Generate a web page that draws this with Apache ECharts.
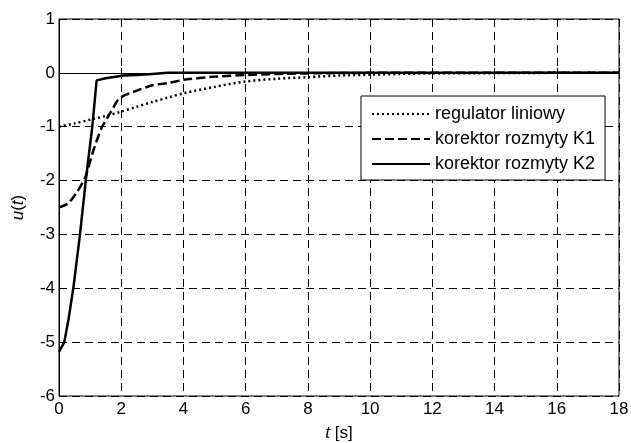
<!DOCTYPE html>
<html>
<head>
<meta charset="utf-8">
<script src="https://cdn.jsdelivr.net/npm/echarts@6/dist/echarts.min.js"></script>
<style>
  html, body { margin: 0; padding: 0; background: #fff; }
  #chart { width: 631px; height: 443px; }
</style>
</head>
<body>
<div id="chart"></div>
<script>
// regulator liniowy (dotted)
var tLin = [0, 0.5, 1, 1.5, 2, 2.5, 3, 3.5, 4, 5, 6, 7, 8, 9, 10, 11, 12, 14, 16, 18];
var uLin = [-1.0, -0.94, -0.87, -0.8, -0.72, -0.63, -0.54, -0.46, -0.38, -0.26, -0.16, -0.11, -0.08, -0.05, -0.035, -0.02, -0.01, -0.005, 0, 0];
// korektor rozmyty K1 (dashed)
var tK1 = [0, 0.3, 0.57, 0.84, 1.1, 1.37, 1.64, 1.9, 2.1, 2.5, 3, 3.5, 4, 5, 6, 7, 8, 10, 18];
var uK1 = [-2.5, -2.42, -2.22, -1.95, -1.45, -1.02, -0.75, -0.5, -0.42, -0.33, -0.23, -0.19, -0.13, -0.07, -0.04, -0.02, -0.01, 0, 0];
// korektor rozmyty K2 (solid)
var tK2 = [0, 0.05, 0.17, 0.3, 0.46, 0.675, 0.86, 1.07, 1.21, 1.5, 2.07, 2.5, 3, 3.5, 18];
var uK2 = [-5.18, -5.15, -5.0, -4.6, -4.0, -3.0, -2.0, -1.0, -0.14, -0.1, -0.05, -0.04, -0.02, 0, 0];

var seriesNames = ['regulator liniowy', 'korektor rozmyty K1', 'korektor rozmyty K2'];

function pairs(t, u) {
    return t.map(function (v, i) { return [v, u[i]]; });
}

var font = 'Liberation Sans, Arial, sans-serif';
var gridLine = { show: true, lineStyle: { color: '#000', width: 1, type: [8, 5] } };
var richItalic = { i: { fontFamily: font, fontSize: 17, fontStyle: 'italic', color: '#000' } };

var myChart = echarts.init(document.getElementById('chart'));

var option = {
    animation: false,
    backgroundColor: '#fff',
    grid: {
        left: 59, right: 12, top: 19, bottom: 47,
        outerBoundsMode: 'none',
        show: true, borderColor: '#000', borderWidth: 1
    },
    legend: {
        data: seriesNames,
        orient: 'vertical',
        left: 361,
        top: 96,
        padding: [8, 10, 6, 10],
        itemWidth: 58,
        itemHeight: 14,
        itemGap: 5,
        itemStyle: { opacity: 0 },
        backgroundColor: '#fff',
        borderColor: '#000',
        borderWidth: 1,
        textStyle: { fontFamily: font, fontSize: 18, color: '#000', lineHeight: 20 }
    },
    xAxis: {
        type: 'value',
        min: 0, max: 18, interval: 2,
        name: '{i|t} [s]',
        nameLocation: 'middle',
        nameGap: 29,
        nameTextStyle: { fontFamily: font, fontSize: 17, color: '#000', rich: richItalic },
        axisLine: { show: true, lineStyle: { color: '#000', width: 1 } },
        axisTick: { show: true, inside: true, length: 5, lineStyle: { color: '#000' } },
        axisLabel: { fontFamily: font, fontSize: 17, color: '#000', margin: 5 },
        splitLine: gridLine
    },
    yAxis: {
        type: 'value',
        min: -6, max: 1, interval: 1,
        name: '{i|u}({i|t})',
        nameLocation: 'middle',
        nameGap: 32,
        nameTextStyle: { fontFamily: font, fontSize: 17, color: '#000', rich: richItalic },
        axisLine: { show: true, lineStyle: { color: '#000', width: 1 } },
        axisTick: { show: true, inside: true, length: 5, lineStyle: { color: '#000' } },
        axisLabel: { fontFamily: font, fontSize: 17, color: '#000', margin: 4 },
        splitLine: gridLine
    },
    series: [
        {
            name: seriesNames[0], type: 'line', symbol: 'none', smooth: 0.3,
            data: pairs(tLin, uLin),
            lineStyle: { color: '#000', width: 2.5, type: [2, 3] },
            itemStyle: { color: '#000' }
        },
        {
            name: seriesNames[1], type: 'line', symbol: 'none', smooth: 0.2,
            data: pairs(tK1, uK1),
            lineStyle: { color: '#000', width: 2.5, type: [9, 4] },
            itemStyle: { color: '#000' }
        },
        {
            name: seriesNames[2], type: 'line', symbol: 'none',
            data: pairs(tK2, uK2),
            lineStyle: { color: '#000', width: 2.5, type: 'solid' },
            itemStyle: { color: '#000' }
        }
    ]
};

myChart.setOption(option);
window.addEventListener('resize', function () {
    myChart.resize();
});
</script>
</body>
</html>
